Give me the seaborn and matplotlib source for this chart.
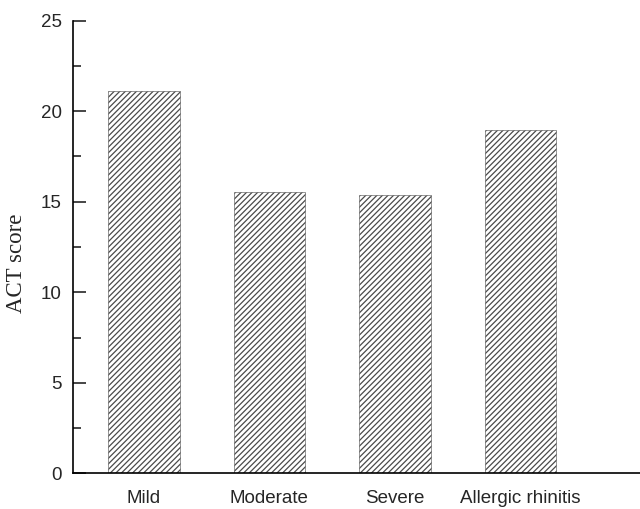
import matplotlib
matplotlib.use("Agg")
import matplotlib.pyplot as plt
import seaborn as sns
import pandas as pd

# Values
groups = ["Mild", "Moderate", "Severe", "Allergic rhinitis"]
act_scores = [21.1, 15.55, 15.35, 18.95]

df = pd.DataFrame({"group": groups, "score": act_scores})

sns.set_style("white")
plt.rcParams["hatch.linewidth"] = 0.9

fig = plt.figure(figsize=(6.4, 5.09), dpi=100)
ax = fig.add_axes([0.1136, 0.0701, 0.8864, 0.8892])

sns.barplot(data=df, x="group", y="score", color="white", width=0.57,
            edgecolor="#4a4a4a", linewidth=0.4, hatch="//////", ax=ax)

ax.set_ylim(0, 25)
ax.set_xlim(-0.566, 3.95)
ax.set_yticks([0, 5, 10, 15, 20, 25])
ax.set_yticks([2.5, 7.5, 12.5, 17.5, 22.5], minor=True)

# spines: only left and bottom
for side in ["top", "right"]:
    ax.spines[side].set_visible(False)
for side in ["left", "bottom"]:
    ax.spines[side].set_color("black")
    ax.spines[side].set_linewidth(1.2)

ax.tick_params(axis="y", which="major", direction="in", length=9, width=1.2,
               left=True, pad=8, labelsize=13.5)
ax.tick_params(axis="y", which="minor", direction="in", length=5.5, width=1.2,
               left=True)
ax.tick_params(axis="x", length=0, pad=12, labelsize=13.5)
for lbl in ax.get_xticklabels() + ax.get_yticklabels():
    lbl.set_fontfamily("Liberation Sans")

ax.set_xlabel("")
ax.set_ylabel("ACT score", fontsize=16.5, fontfamily="Liberation Serif")
ax.yaxis.set_label_coords(-0.08, 0.465)

fig.savefig("out.png", dpi=100)
